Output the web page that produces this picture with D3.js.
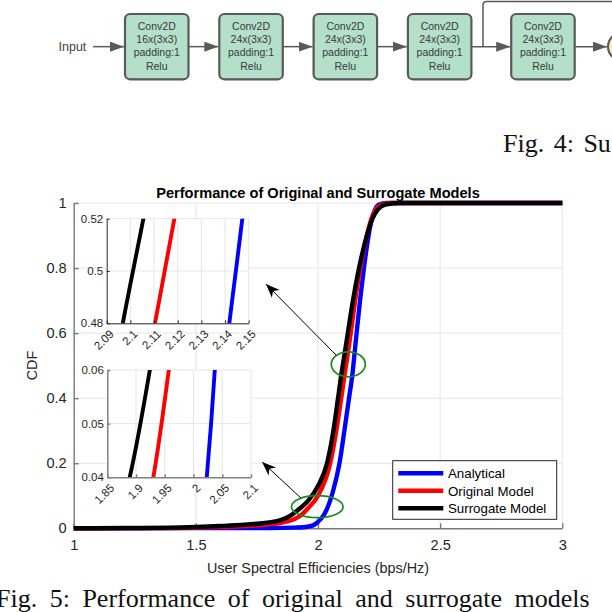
<!DOCTYPE html>
<html><head><meta charset="utf-8">
<script src="https://cdn.jsdelivr.net/npm/d3@7"></script>
<style>body{margin:0;background:#fff}svg{display:block}</style>
</head><body>
<svg id="c" width="612" height="612"></svg>
<script>
// ---------------- data ----------------
const blockLabels = [
  ["Conv2D","16x(3x3)","padding:1","Relu"],
  ["Conv2D","24x(3x3)","padding:1","Relu"],
  ["Conv2D","24x(3x3)","padding:1","Relu"],
  ["Conv2D","24x(3x3)","padding:1","Relu"],
  ["Conv2D","24x(3x3)","padding:1","Relu"]
];
const seriesNames = ["Analytical","Original Model","Surrogate Model"];
const seriesColors = ["#0000ff","#ff0000","#000000"];

const analyticalX = [1.0,1.5,1.8,1.9,1.95,1.98,2.0,2.023,2.037,2.06,2.088,2.108,2.127,2.1418,2.1473,2.158,2.172,2.188,2.207,2.22,2.234,2.25,2.28,3.0];
const analyticalY = [0,0.0005,0.001,0.002,0.004,0.009,0.02,0.04,0.06,0.11,0.2,0.3,0.4,0.48,0.52,0.6,0.7,0.8,0.9,0.95,0.98,0.995,1,1];

const originalX = [1.0,1.3,1.5,1.6,1.7,1.8,1.85,1.9,1.93,1.957,2.0,2.05,2.075,2.095,2.1104,2.1186,2.134,2.152,2.173,2.2,2.218,2.237,2.26,2.3,3.0];
const originalY = [0,0.0005,0.002,0.004,0.007,0.012,0.017,0.027,0.04,0.06,0.1,0.2,0.3,0.4,0.48,0.52,0.6,0.7,0.8,0.9,0.95,0.98,0.995,1,1];

const surrogateX = [1.0,1.2,1.4,1.5,1.6,1.7,1.75,1.8,1.85,1.889,1.924,1.96,2.0,2.037,2.063,2.082,2.0968,2.1055,2.122,2.143,2.168,2.2,2.222,2.245,2.275,2.33,3.0];
const surrogateY = [0,0.0008,0.002,0.004,0.007,0.011,0.014,0.018,0.026,0.04,0.06,0.085,0.13,0.2,0.3,0.4,0.48,0.52,0.6,0.7,0.8,0.9,0.95,0.98,0.995,1,1];

const mainXTicks = [1,1.5,2,2.5,3];
const mainYTicks = [0,0.2,0.4,0.6,0.8,1];
const inset1XTicks = [2.09,2.1,2.11,2.12,2.13,2.14,2.15];
const inset1YTicks = [0.48,0.5,0.52];
const inset2XTicks = [1.85,1.9,1.95,2,2.05,2.1];
const inset2YTicks = [0.04,0.05,0.06];

const series = [
  {name: seriesNames[0], color: seriesColors[0], pts: analyticalX.map((x,i)=>[x, analyticalY[i]])},
  {name: seriesNames[1], color: seriesColors[1], pts: originalX.map((x,i)=>[x, originalY[i]])},
  {name: seriesNames[2], color: seriesColors[2], pts: surrogateX.map((x,i)=>[x, surrogateY[i]])}
];

// ---------------- setup ----------------
const svg = d3.select("#c");
const SANS = "'Liberation Sans', Arial, Helvetica, sans-serif";
const SERIF = "'Liberation Serif', 'Times New Roman', serif";
const defs = svg.append("defs");
defs.append("marker").attr("id","tri").attr("markerUnits","userSpaceOnUse")
  .attr("viewBox","0 0 14 10").attr("refX",14).attr("refY",5)
  .attr("markerWidth",14).attr("markerHeight",10).attr("orient","auto")
  .append("path").attr("d","M0,0L14,5L0,10Z").attr("fill","#5a5a5a");

// ---------------- top diagram ----------------
const diag = svg.append("g");
const boxW = 63.5, boxTop = 14, boxH = 65.3, cy = boxTop + boxH/2;
const boxLeft = i => 125 + i*94.3 + (i===4 ? 9 : 0);
diag.append("text").attr("x",58.5).attr("y",cy+4).attr("font-family",SANS)
  .attr("font-size",12.5).attr("fill","#444").text("Input");
diag.append("line").attr("x1",93).attr("x2",boxLeft(0)-1).attr("y1",cy).attr("y2",cy)
  .attr("stroke","#5a5a5a").attr("stroke-width",1.5).attr("marker-end","url(#tri)");
blockLabels.forEach((lines,i)=>{
  const bx = boxLeft(i);
  diag.append("rect").attr("x",bx).attr("y",boxTop).attr("width",boxW).attr("height",boxH)
    .attr("rx",5).attr("fill","#b4dfcb").attr("stroke","#5a5a5a").attr("stroke-width",2.2);
  lines.forEach((t,j)=>{
    diag.append("text").attr("x",bx+boxW/2).attr("y",30+j*13.2).attr("text-anchor","middle")
      .attr("font-family",SANS).attr("font-size",10.5).attr("fill","#3a3a3a").text(t);
  });
  if (i < blockLabels.length-1) {
    diag.append("line").attr("x1",bx+boxW).attr("x2",boxLeft(i+1)-1).attr("y1",cy).attr("y2",cy)
      .attr("stroke","#5a5a5a").attr("stroke-width",1.5).attr("marker-end","url(#tri)");
  }
});
diag.append("path").attr("d",`M483,${cy}L483,5Q483,1.5 487,1.5L612,1.5`).attr("fill","none")
  .attr("stroke","#5a5a5a").attr("stroke-width",1.5);
diag.append("circle").attr("cx",622).attr("cy",cy).attr("r",14).attr("fill","#f3efc6")
  .attr("stroke","#5a5a5a").attr("stroke-width",2);
diag.append("line").attr("x1",boxLeft(4)+boxW).attr("x2",607).attr("y1",cy).attr("y2",cy)
  .attr("stroke","#5a5a5a").attr("stroke-width",1.5).attr("marker-end","url(#tri)");
diag.append("text").attr("x",503).attr("y",152).attr("font-family",SERIF).attr("font-size",26)
  .attr("fill","#111").attr("word-spacing",3).text("Fig. 4: Su");

// ---------------- main chart ----------------
const x = d3.scaleLinear().domain([1,3]).range([73.7,562.3]);
const y = d3.scaleLinear().domain([0,1]).range([528.3,203]);
const main = svg.append("g");
main.selectAll(".gx").data(mainXTicks.slice(1)).join("line")
  .attr("x1",d=>x(d)).attr("x2",d=>x(d)).attr("y1",y(0)).attr("y2",y(1))
  .attr("stroke","#e6e6e6").attr("stroke-width",1);
main.selectAll(".gy").data(mainYTicks.slice(1)).join("line")
  .attr("y1",d=>y(d)).attr("y2",d=>y(d)).attr("x1",x(1)).attr("x2",x(3))
  .attr("stroke","#e6e6e6").attr("stroke-width",1);

function styleAxis(g, color, width, fs) {
  g.select(".domain").attr("stroke",color).attr("stroke-width",width);
  g.selectAll(".tick line").attr("stroke",color).attr("stroke-width",width);
  g.selectAll(".tick text").attr("fill","#262626").attr("font-family",SANS).attr("font-size",fs);
  g.attr("font-family",SANS);
}
const xAx = main.append("g").attr("transform",`translate(0,${y(0)})`)
  .call(d3.axisBottom(x).tickValues(mainXTicks).tickFormat(d=>String(d)).tickSize(-5).tickSizeOuter(0).tickPadding(11));
styleAxis(xAx,"#7a7a7a",1.4,14.6);
const yAx = main.append("g").attr("transform",`translate(${x(1)},0)`)
  .call(d3.axisLeft(y).tickValues(mainYTicks).tickFormat(d=>String(d)).tickSize(-5).tickSizeOuter(0).tickPadding(7));
styleAxis(yAx,"#7a7a7a",1.4,14.6);

const line = d3.line().x(d=>x(d[0])).y(d=>y(d[1])).curve(d3.curveMonotoneX);
main.selectAll(".s").data(series).join("path").attr("d",d=>line(d.pts))
  .attr("fill","none").attr("stroke",d=>d.color).attr("stroke-width",4.4).attr("stroke-linejoin","round");

main.append("text").attr("x",318).attr("y",197.5).attr("text-anchor","middle")
  .attr("font-family",SANS).attr("font-weight","bold").attr("font-size",14.6).attr("fill","#000")
  .text("Performance of Original and Surrogate Models");
main.append("text").attr("x",318).attr("y",573).attr("text-anchor","middle")
  .attr("font-family",SANS).attr("font-size",14.4).attr("fill","#262626")
  .text("User Spectral Efficiencies (bps/Hz)");
main.append("text").attr("transform","translate(36.5,365.5) rotate(-90)").attr("text-anchor","middle")
  .attr("font-family",SANS).attr("font-size",14.4).attr("fill","#262626").text("CDF");

const ellipses = [{cx:2.124, cy:0.504, rx:0.0696, ry:0.0384},{cx:1.997, cy:0.0664, rx:0.1056, ry:0.0338}];
main.selectAll(".el").data(ellipses).join("ellipse")
  .attr("cx",d=>x(d.cx)).attr("cy",d=>y(d.cy))
  .attr("rx",d=>x(1+d.rx)-x(1)).attr("ry",d=>y(0)-y(d.ry))
  .attr("fill","none").attr("stroke","#1b8a1b").attr("stroke-width",1.7);
const arrows = [{x1:2.0737,y1:0.5327,x2:1.787,y2:0.751},{x1:1.930,y1:0.0932,x2:1.771,y2:0.2038}];
arrows.forEach(a=>{
  const X1=x(a.x1),Y1=y(a.y1),X2=x(a.x2),Y2=y(a.y2);
  const ang = Math.atan2(Y2-Y1,X2-X1)*180/Math.PI;
  main.append("line").attr("x1",X1).attr("y1",Y1).attr("x2",X2).attr("y2",Y2)
    .attr("stroke","#000").attr("stroke-width",1);
  main.append("path").attr("d","M0,0L-14,-5.5L-10,0L-14,5.5Z")
    .attr("transform",`translate(${X2},${Y2}) rotate(${ang})`).attr("fill","#000");
});

const leg = main.append("g");
leg.append("rect").attr("x",392.7).attr("y",460.7).attr("width",164).attr("height",58.6)
  .attr("fill","#fff").attr("stroke","#262626").attr("stroke-width",1);
series.forEach((s,i)=>{
  const yy = 473.3 + i*17.5;
  leg.append("line").attr("x1",398.3).attr("x2",443.3).attr("y1",yy).attr("y2",yy)
    .attr("stroke",s.color).attr("stroke-width",4.4);
  leg.append("text").attr("x",448).attr("y",yy+4.8).attr("font-family",SANS).attr("font-size",13.3)
    .attr("fill","#000").text(s.name);
});

// ---------------- insets ----------------
function inset(id, xd, yd, xr, yr, xt, yt, axisColor, axisW) {
  const ix = d3.scaleLinear().domain(xd).range(xr);
  const iy = d3.scaleLinear().domain(yd).range(yr);
  const g = svg.append("g");
  g.append("rect").attr("x",xr[0]).attr("y",yr[1]).attr("width",xr[1]-xr[0]).attr("height",yr[0]-yr[1]).attr("fill","#fff");
  g.selectAll(".gx").data(xt.slice(1)).join("line").attr("x1",d=>ix(d)).attr("x2",d=>ix(d))
    .attr("y1",yr[0]).attr("y2",yr[1]).attr("stroke","#e6e6e6");
  g.selectAll(".gy").data(yt.slice(1)).join("line").attr("y1",d=>iy(d)).attr("y2",d=>iy(d))
    .attr("x1",xr[0]).attr("x2",xr[1]).attr("stroke","#e6e6e6");
  defs.append("clipPath").attr("id",id).append("rect").attr("x",xr[0]).attr("y",yr[1])
    .attr("width",xr[1]-xr[0]).attr("height",yr[0]-yr[1]);
  const il = d3.line().x(d=>ix(d[0])).y(d=>iy(d[1])).curve(d3.curveMonotoneX);
  g.append("g").attr("clip-path",`url(#${id})`).selectAll("path").data(series).join("path")
    .attr("d",d=>il(d.pts)).attr("fill","none").attr("stroke",d=>d.color).attr("stroke-width",3.9);
  const ax = g.append("g").attr("transform",`translate(0,${yr[0]})`)
    .call(d3.axisBottom(ix).tickValues(xt).tickFormat(d=>String(d)).tickSize(-3).tickSizeOuter(0));
  styleAxis(ax,axisColor,axisW,11.5);
  ax.selectAll(".tick text").attr("y",null).attr("dy","0.35em").attr("text-anchor","end")
    .attr("transform","translate(4.5,8.5) rotate(-45)");
  const ay = g.append("g").attr("transform",`translate(${xr[0]},0)`)
    .call(d3.axisLeft(iy).tickValues(yt).tickFormat(d=>String(d)).tickSize(-3).tickSizeOuter(0).tickPadding(3.5));
  styleAxis(ay,axisColor,axisW,11.5);
}
inset("clip1",[2.09,2.15],[0.48,0.52],[106.7,248.7],[323.3,218.7],inset1XTicks,inset1YTicks,"#262626",1);
inset("clip2",[1.85,2.1],[0.04,0.06],[107.3,251],[477.3,370],inset2XTicks,inset2YTicks,"#808080",1.5);

// ---------------- bottom caption ----------------
svg.append("text").attr("x",-4).attr("y",607).attr("font-family",SERIF).attr("font-size",26)
  .attr("fill","#111").attr("word-spacing",6).text("Fig. 5: Performance of original and surrogate models");
</script>
</body></html>
